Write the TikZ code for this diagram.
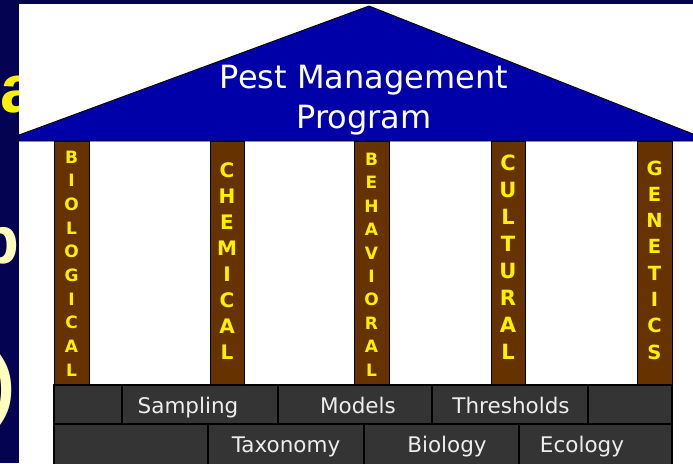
\documentclass[tikz,border=0pt]{standalone}
\usepackage{fontspec}
\setmainfont{DejaVu Sans}
\newfontfamily\slidefont{Liberation Sans}
\definecolor{navy}{RGB}{3,3,82}
\definecolor{roofblue}{RGB}{0,0,168}
\definecolor{pillar}{RGB}{102,51,0}
\definecolor{brick}{RGB}{52,52,52}
\definecolor{letteryellow}{RGB}{255,240,0}
\definecolor{paleyellow}{RGB}{255,255,190}
\begin{document}
\begin{tikzpicture}[x=1pt,y=-1pt,
  pillarbox/.style={draw=black, fill=pillar, line width=0.8pt},
  brickbox/.style={draw=black, fill=brick, line width=1.4pt},
  pillarword/.style={inner sep=0, align=center, text=letteryellow},
  bricklabel/.style={inner sep=0, anchor=base, text=white!93!black,
    font=\fontsize{21.5}{21.5}\selectfont},
  rooflabel/.style={inner sep=0, anchor=base, text=white,
    font=\fontsize{32}{32}\selectfont},
  cutletter/.style={inner sep=0, anchor=base west,
    font=\slidefont\bfseries\fontsize{#1}{#1}\selectfont}]
\useasboundingbox (0,0) rectangle (693,463);
\clip (0,0) rectangle (693,463);

% slide background with the edges of its large letters
\fill[navy] (0,0) rectangle (693,463);
\node[cutletter=68, text=yellow] (edgea) at (0,112) {a};
\node[cutletter=67, text=paleyellow] (edgeb) at (-21.5,263) {b};
\node[cutletter=75, text=paleyellow] (edgeparen) at (-9.5,409) {)};

% white panel
\fill[white] (19,4) rectangle (693,463);

% roof
\draw[fill=roofblue, line width=0.9pt, line join=round]
  (19,141) -- (19,135) -- (369,6) -- (693,134) -- (693,141) -- cycle;
\node[rooflabel] (roof1) at (364,88) {Pest Management};
\node[rooflabel] (roof2) at (364,128) {Program};

% pillars
\draw[pillarbox] (54,141) rectangle (89,385);
\draw[pillarbox] (210,141) rectangle (244,385);
\draw[pillarbox] (354,141) rectangle (389,385);
\draw[pillarbox] (491,141) rectangle (525,385);
\draw[pillarbox] (637,141) rectangle (672,385);

\node[pillarword, font=\bfseries\fontsize{17}{23.7}\selectfont] (bio) at (71.5,263.5)
  {B\\I\\O\\L\\O\\G\\I\\C\\A\\L};
\node[pillarword, font=\bfseries\fontsize{20}{26}\selectfont] (chem) at (227,261)
  {C\\H\\E\\M\\I\\C\\A\\L};
\node[pillarword, font=\bfseries\fontsize{17}{23.4}\selectfont] (behav) at (371.5,264.5)
  {B\\E\\H\\A\\V\\I\\O\\R\\A\\L};
\node[pillarword, font=\bfseries\fontsize{21}{27}\selectfont] (cult) at (508,257.5)
  {C\\U\\L\\T\\U\\R\\A\\L};
\node[pillarword, font=\bfseries\fontsize{19.5}{26.3}\selectfont] (gen) at (654.5,260)
  {G\\E\\N\\E\\T\\I\\C\\S};

% foundation bricks, upper course
\draw[brickbox] (54,385) rectangle (122,424);
\draw[brickbox] (122,385) rectangle (278,424);
\draw[brickbox] (278,385) rectangle (432,424);
\draw[brickbox] (432,385) rectangle (588,424);
\draw[brickbox] (588,385) rectangle (672,424);
% lower course
\draw[brickbox] (54,424) rectangle (208,466);
\draw[brickbox] (208,424) rectangle (364,466);
\draw[brickbox] (364,424) rectangle (519,466);
\draw[brickbox] (519,424) rectangle (672,466);

\node[bricklabel] (sampling) at (188,413) {Sampling};
\node[bricklabel] (models) at (358,413) {Models};
\node[bricklabel] (thresholds) at (511,413) {Thresholds};
\node[bricklabel] (taxonomy) at (286,452) {Taxonomy};
\node[bricklabel] (biology) at (447,452) {Biology};
\node[bricklabel] (ecology) at (582,452) {Ecology};
\end{tikzpicture}
\end{document}
